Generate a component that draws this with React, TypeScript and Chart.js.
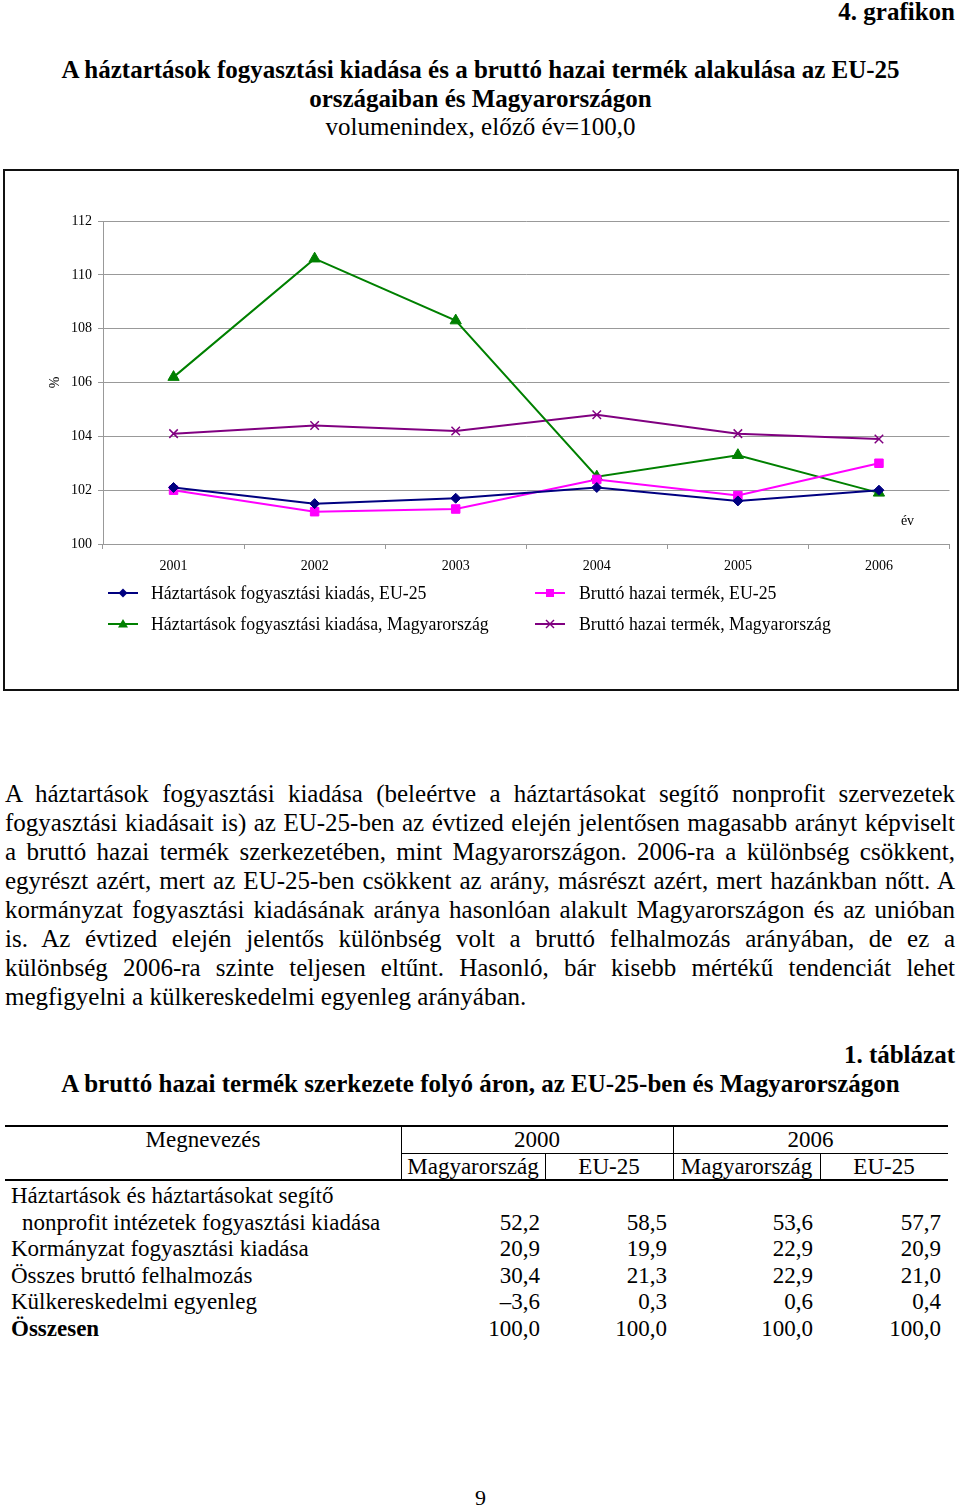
import React, { useEffect, useRef } from "react";
import { Chart, registerables } from "chart.js";

Chart.register(...registerables);

const FONT = "'Liberation Serif', 'Times New Roman', serif";

// ---- chart data ----
const years = ["2001", "2002", "2003", "2004", "2005", "2006"];
const hhEU = [102.1, 101.5, 101.7, 102.1, 101.6, 102.0];
const gdpEU = [102.0, 101.2, 101.3, 102.4, 101.8, 103.0];
const hhHU = [106.2, 110.6, 108.3, 102.5, 103.3, 101.9];
const gdpHU = [104.1, 104.4, 104.2, 104.8, 104.1, 103.9];
const seriesNames = [
  "Háztartások fogyasztási kiadás, EU-25",
  "Bruttó hazai termék, EU-25",
  "Háztartások fogyasztási kiadása, Magyarország",
  "Bruttó hazai termék, Magyarország",
];
const seriesColors = ["#000080", "#FF00FF", "#008000", "#800080"];
const seriesMarkers = ["rectRot", "rect", "triangle", "crossRot"];
const yMin = 100;
const yMax = 112;
const yStep = 2;

// ---- table data ----
const rowLabels = [
  "Kormányzat fogyasztási kiadása",
  "Összes bruttó felhalmozás",
  "Külkereskedelmi egyenleg",
];
const firstRowLabel1 = "Háztartások és háztartásokat segítő";
const firstRowLabel2 = "nonprofit intézetek fogyasztási kiadása";
const totalLabel = "Összesen";
const hu2000 = ["52,2", "20,9", "30,4", "–3,6", "100,0"];
const eu2000 = ["58,5", "19,9", "21,3", "0,3", "100,0"];
const hu2006 = ["53,6", "22,9", "22,9", "0,6", "100,0"];
const eu2006 = ["57,7", "20,9", "21,0", "0,4", "100,0"];

const paragraphLines = [
  "A háztartások fogyasztási kiadása (beleértve a háztartásokat segítő nonprofit szervezetek",
  "fogyasztási kiadásait is) az EU-25-ben az évtized elején jelentősen magasabb arányt képviselt",
  "a bruttó hazai termék szerkezetében, mint Magyarországon. 2006-ra a különbség csökkent,",
  "egyrészt azért, mert az EU-25-ben csökkent az arány, másrészt azért, mert hazánkban nőtt. A",
  "kormányzat fogyasztási kiadásának aránya hasonlóan alakult Magyarországon és az unióban",
  "is. Az évtized elején jelentős különbség volt a bruttó felhalmozás arányában, de ez a",
  "különbség 2006-ra szinte teljesen eltűnt. Hasonló, bár kisebb mértékű tendenciát lehet",
  "megfigyelni a külkereskedelmi egyenleg arányában.",
];

const axisTextPlugin = {
  id: "axisText",
  afterDraw(chart: any) {
    const { ctx, chartArea } = chart;
    ctx.save();
    ctx.font = `14px ${FONT}`;
    ctx.fillStyle = "#000";
    ctx.textAlign = "center";
    ctx.textBaseline = "middle";
    ctx.save();
    ctx.translate(chartArea.left - 48, (chartArea.top + chartArea.bottom) / 2);
    ctx.rotate(-Math.PI / 2);
    ctx.fillText("%", 0, 0);
    ctx.restore();
    ctx.fillText("év", chartArea.right - 42, chartArea.bottom - 23);
    ctx.restore();
  },
};

function LegendMarker({ color, type }: { color: string; type: string }) {
  let marker: React.ReactNode = null;
  if (type === "rectRot") marker = <polygon points="15,2.5 19.5,7 15,11.5 10.5,7" fill={color} />;
  if (type === "rect") marker = <rect x={11} y={3} width={8} height={8} fill={color} />;
  if (type === "triangle") marker = <polygon points="15,2 20,10.5 10,10.5" fill={color} />;
  if (type === "crossRot")
    marker = (
      <g stroke={color} strokeWidth={1.5}>
        <line x1={11} y1={3} x2={19} y2={11} />
        <line x1={19} y1={3} x2={11} y2={11} />
      </g>
    );
  return (
    <svg width={30} height={14} style={{ display: "block" }}>
      <line x1={0} y1={7} x2={30} y2={7} stroke={color} strokeWidth={2} />
      {marker}
    </svg>
  );
}

export default function App() {
  const canvasRef = useRef<HTMLCanvasElement | null>(null);

  useEffect(() => {
    document.body.style.margin = "0";
    const canvas = canvasRef.current;
    if (!canvas) return;
    const radii = [5, 6, 6.5, 6];
    const datasets = [hhEU, gdpEU, hhHU, gdpHU].map((d, i) => ({
      label: seriesNames[i],
      data: d,
      borderColor: seriesColors[i],
      backgroundColor: seriesColors[i],
      pointBackgroundColor: seriesColors[i],
      pointBorderColor: seriesColors[i],
      pointStyle: seriesMarkers[i] as any,
      pointRadius: radii[i],
      pointBorderWidth: i === 3 ? 1.5 : 1,
      borderWidth: 2,
      tension: 0,
      fill: false,
    }));
    const chart = new Chart(canvas, {
      type: "line",
      data: { labels: years, datasets },
      plugins: [axisTextPlugin],
      options: {
        animation: false,
        responsive: true,
        maintainAspectRatio: false,
        layout: { padding: { left: 0, right: 7, top: 50, bottom: 115 } },
        plugins: { legend: { display: false }, tooltip: { enabled: false } },
        scales: {
          x: {
            type: "category",
            offset: true,
            grid: {
              display: true,
              drawOnChartArea: false,
              drawTicks: true,
              tickLength: 5,
              color: "#999999",
              offset: true,
            },
            border: { display: true, color: "#999999", width: 1 },
            ticks: { font: { family: FONT, size: 14 }, color: "#000", padding: 9, maxRotation: 0 },
            afterFit: (s: any) => {
              s.height = 30;
            },
          },
          y: {
            min: yMin,
            max: yMax,
            grid: { color: "#999999", tickLength: 5, drawTicks: true },
            border: { display: true, color: "#999999", width: 1 },
            ticks: {
              stepSize: yStep,
              font: { family: FONT, size: 14 },
              color: "#000",
              padding: 6,
            },
            afterFit: (s: any) => {
              s.width = 98;
            },
          },
        },
      },
    });
    return () => chart.destroy();
  }, []);

  const abs = (x: number, y: number, extra: React.CSSProperties = {}): React.CSSProperties => ({
    position: "absolute",
    left: x,
    top: y,
    ...extra,
  });

  const tableFont: React.CSSProperties = { fontSize: 23, lineHeight: "26.6px", whiteSpace: "nowrap" };
  const numCols = [
    { right: 540, vals: hu2000 },
    { right: 667, vals: eu2000 },
    { right: 813, vals: hu2006 },
    { right: 941, vals: eu2006 },
  ];
  const dataTop = 1183;
  const rh = 26.6;

  return (
    <div style={{ position: "relative", width: 960, height: 1509, fontFamily: FONT, color: "#000", overflow: "hidden" }}>
      {/* header */}
      <div style={abs(0, -3, { width: 955, textAlign: "right", fontWeight: "bold", fontSize: 25, lineHeight: "29px" })}>
        4. grafikon
      </div>
      <div style={abs(0, 54.5, { width: 961, textAlign: "center", fontSize: 25, lineHeight: "29px" })}>
        <div style={{ fontWeight: "bold" }}>
          A háztartások fogyasztási kiadása és a bruttó hazai termék alakulása az EU-25
        </div>
        <div style={{ fontWeight: "bold" }}>országaiban és Magyarországon</div>
        <div style={{ marginTop: -1 }}>volumenindex, előző év=100,0</div>
      </div>

      {/* chart box */}
      <div
        style={abs(3, 169, {
          width: 952,
          height: 518,
          border: "2px solid #111",
          background: "#fff",
        })}
      >
        <div style={{ position: "relative", width: 952, height: 518 }}>
          <canvas ref={canvasRef} />
        </div>
      </div>

      {/* legend */}
      {[0, 1, 2, 3].map((i) => {
        const col = i % 2;
        const row = Math.floor(i / 2);
        const lx = col === 0 ? 108 : 535;
        const tx = col === 0 ? 151 : 579;
        const cy = row === 0 ? 593 : 624;
        return (
          <React.Fragment key={i}>
            <div style={abs(lx, cy - 7)}>
              <LegendMarker color={seriesColors[i]} type={seriesMarkers[i]} />
            </div>
            <div style={abs(tx, cy - 12, { fontSize: 17.8, lineHeight: "24px", whiteSpace: "nowrap" })}>
              {seriesNames[i]}
            </div>
          </React.Fragment>
        );
      })}

      {/* paragraph */}
      <div style={abs(5, 778.5, { width: 950, fontSize: 25, lineHeight: "29px" })}>
        {paragraphLines.map((l, i) => (
          <div
            key={i}
            style={{
              textAlign: i === paragraphLines.length - 1 ? "left" : "justify",
              textAlignLast: i === paragraphLines.length - 1 ? "left" : "justify",
              whiteSpace: "nowrap",
            } as React.CSSProperties}
          >
            {l}
          </div>
        ))}
      </div>

      {/* table heading */}
      <div style={abs(0, 1039.5, { width: 955, textAlign: "right", fontWeight: "bold", fontSize: 25, lineHeight: "29px" })}>
        1. táblázat
      </div>
      <div style={abs(0, 1068.5, { width: 961, textAlign: "center", fontWeight: "bold", fontSize: 25, lineHeight: "29px" })}>
        A bruttó hazai termék szerkezete folyó áron, az EU-25-ben és Magyarországon
      </div>

      {/* table lines */}
      <div style={abs(5, 1125, { width: 943, height: 2, background: "#000" })} />
      <div style={abs(401, 1153, { width: 547, height: 1, background: "#000" })} />
      <div style={abs(5, 1179, { width: 943, height: 2, background: "#000" })} />
      <div style={abs(401, 1126, { width: 1, height: 54, background: "#000" })} />
      <div style={abs(673, 1126, { width: 1, height: 54, background: "#000" })} />
      <div style={abs(545, 1153, { width: 1, height: 27, background: "#000" })} />
      <div style={abs(820, 1153, { width: 1, height: 27, background: "#000" })} />

      {/* table header texts */}
      <div style={abs(5, 1127, { width: 396, textAlign: "center", ...tableFont })}>Megnevezés</div>
      <div style={abs(401, 1127, { width: 272, textAlign: "center", ...tableFont })}>2000</div>
      <div style={abs(673, 1127, { width: 275, textAlign: "center", ...tableFont })}>2006</div>
      <div style={abs(401, 1154, { width: 144, textAlign: "center", ...tableFont })}>Magyarország</div>
      <div style={abs(545, 1154, { width: 128, textAlign: "center", ...tableFont })}>EU-25</div>
      <div style={abs(673, 1154, { width: 147, textAlign: "center", ...tableFont })}>Magyarország</div>
      <div style={abs(820, 1154, { width: 128, textAlign: "center", ...tableFont })}>EU-25</div>

      {/* table body */}
      <div style={abs(11, dataTop, tableFont)}>{firstRowLabel1}</div>
      <div style={abs(22, dataTop + rh, tableFont)}>{firstRowLabel2}</div>
      {rowLabels.map((l, i) => (
        <div key={l} style={abs(11, dataTop + rh * (i + 2), tableFont)}>
          {l}
        </div>
      ))}
      <div style={abs(11, dataTop + rh * 5, { ...tableFont, fontWeight: "bold" })}>{totalLabel}</div>
      {numCols.map((c, ci) =>
        c.vals.map((v, ri) => (
          <div
            key={`${ci}-${ri}`}
            style={abs(c.right - 120, dataTop + rh * (ri + 1), { width: 120, textAlign: "right", ...tableFont })}
          >
            {v}
          </div>
        ))
      )}

      {/* page number */}
      <div style={abs(0, 1485, { width: 961, textAlign: "center", fontSize: 22, lineHeight: "26px" })}>9</div>
    </div>
  );
}
